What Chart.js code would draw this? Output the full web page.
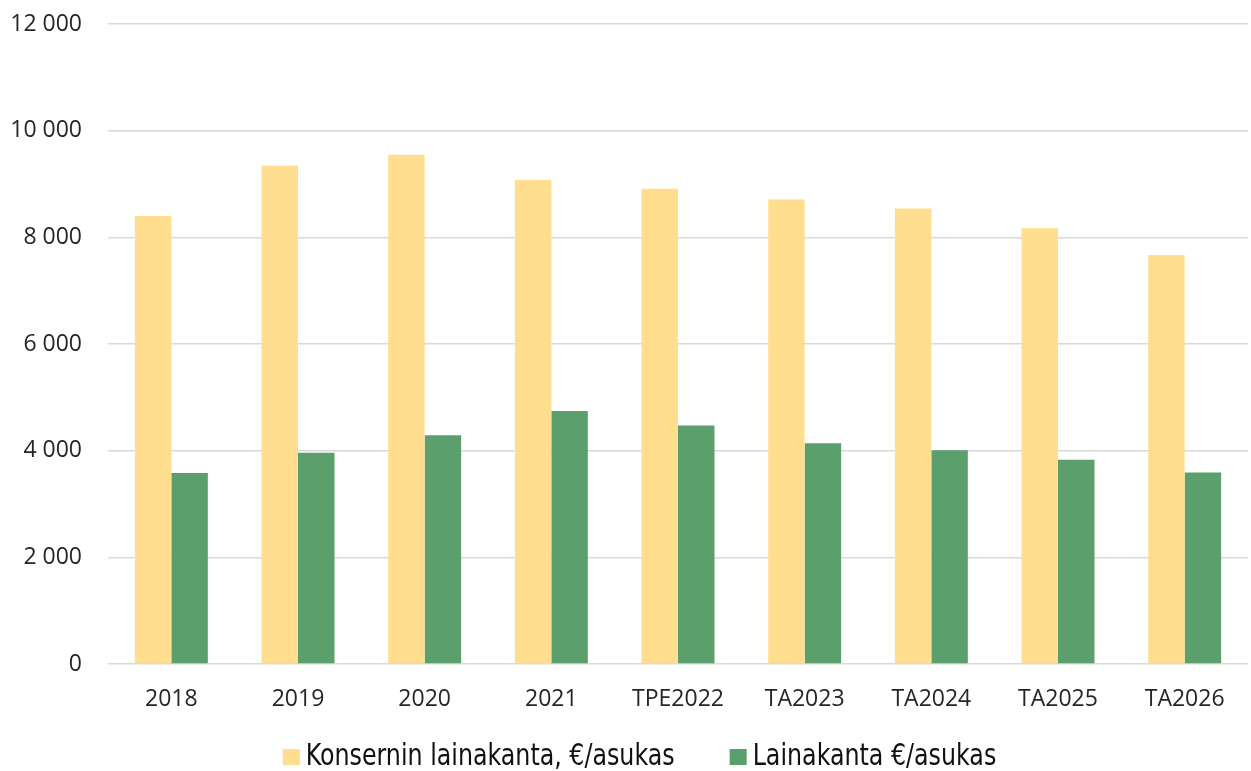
<!DOCTYPE html>
<html>
<head>
<meta charset="utf-8">
<script src="https://cdn.jsdelivr.net/npm/chart.js@4.4.1/dist/chart.umd.min.js"></script>
<style>
  html, body { margin: 0; padding: 0; background: #fff; }
  #wrap { width: 1251px; height: 771px; }
</style>
</head>
<body>
<div id="wrap"><canvas id="lainaChart"></canvas></div>
<script>
// Vuodet / kategoriat
const vuodet = ['2018', '2019', '2020', '2021', 'TPE2022', 'TA2023', 'TA2024', 'TA2025', 'TA2026'];

// Sarjat (€/asukas), luettu kuvasta
const konserninLainakanta = [8400, 9340, 9550, 9075, 8910, 8710, 8540, 8170, 7670];
const lainakanta = [3580, 3960, 4290, 4745, 4470, 4140, 4010, 3830, 3590];

// Y-akselin jaotus
const yMin = 0;
const yMax = 12000;
const yStep = 2000;

const keltainen = '#FFDF8F';
const vihrea = '#5A9F6C';

function muotoile(v) {
    // 12000 -> "12 000"
    return String(v).replace(/\B(?=(\d{3})+(?!\d))/g, ' ');
}

// Oma selite alareunaan (laatikko lähellä tekstiä kuten alkuperäisessä)
const seliteLiitannainen = {
    id: 'alaSelite',
    afterDraw(chart) {
        const ctx = chart.ctx;
        const sx = 0.88; // kapea kirjasin
        ctx.save();
        ctx.font = '30px "Liberation Sans Narrow", "DejaVu Sans Condensed", sans-serif';
        ctx.textBaseline = 'middle';
        const items = chart.data.datasets.map(ds => ({
            text: ds.label,
            color: ds.backgroundColor,
            w: ctx.measureText(ds.label).width * sx
        }));
        const box = 17, gap = 6, spacing = 55;
        const total = items.reduce((s, it) => s + box + gap + it.w, 0) + spacing * (items.length - 1);
        let x = chart.width / 2 + 14 - total / 2;
        const y = 757;
        items.forEach(it => {
            ctx.fillStyle = it.color;
            ctx.fillRect(x, y - 8, box, 16);
            x += box + gap;
            ctx.save();
            ctx.translate(x, y);
            ctx.scale(sx, 1);
            ctx.fillStyle = '#111';
            ctx.fillText(it.text, 0, 0);
            ctx.restore();
            x += it.w + spacing;
        });
        ctx.restore();
    }
};

const ctx = document.getElementById('lainaChart');

new Chart(ctx, {
    type: 'bar',
    data: {
        labels: vuodet,
        datasets: [
            {
                label: 'Konsernin lainakanta, €/asukas',
                data: konserninLainakanta,
                backgroundColor: keltainen,
                categoryPercentage: 0.576,
                barPercentage: 1.0
            },
            {
                label: 'Lainakanta €/asukas',
                data: lainakanta,
                backgroundColor: vihrea,
                categoryPercentage: 0.576,
                barPercentage: 1.0
            }
        ]
    },
    options: {
        responsive: true,
        maintainAspectRatio: false,
        animation: false,
        layout: {
            padding: { top: 24, right: 3, left: 0, bottom: 57 }
        },
        plugins: {
            legend: { display: false },
            tooltip: { enabled: false }
        },
        scales: {
            x: {
                grid: { display: false },
                border: { display: false },
                ticks: {
                    color: '#262626',
                    font: { family: '"Open Sans"', size: 23 },
                    padding: 14,
                    maxRotation: 0
                },
                afterFit(scale) { scale.height = 50; }
            },
            y: {
                min: yMin,
                max: yMax,
                border: { display: false },
                grid: {
                    color: '#d9d9d9',
                    lineWidth: 1.5,
                    drawTicks: false
                },
                ticks: {
                    stepSize: yStep,
                    color: '#262626',
                    font: { family: '"Open Sans"', size: 23 },
                    padding: 26,
                    callback: (v) => muotoile(v)
                },
                afterFit(scale) {
                    scale.width = 108;
                    scale.paddingTop = 0;
                    scale.paddingBottom = 0;
                }
            }
        }
    },
    plugins: [seliteLiitannainen]
});
</script>
</body>
</html>
